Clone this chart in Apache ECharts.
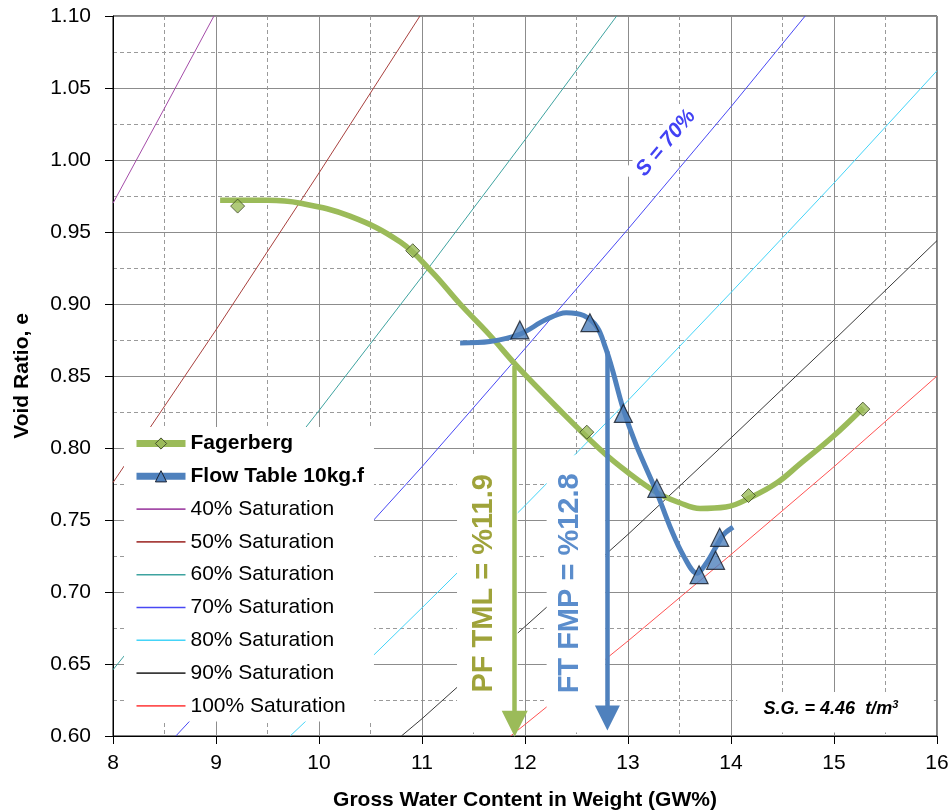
<!DOCTYPE html>
<html>
<head>
<meta charset="utf-8">
<script src="https://cdn.jsdelivr.net/npm/echarts@6/dist/echarts.min.js"></script>
<style>
  html, body { margin: 0; padding: 0; background: #fff; }
  #chart { width: 950px; height: 811px; }
</style>
</head>
<body>
<div id="chart"></div>
<script>
const FONT = '"Liberation Sans", Arial, sans-serif';

// Axis ticks
const xTicks = [8, 9, 10, 11, 12, 13, 14, 15, 16];
const yTicks = [0.60, 0.65, 0.70, 0.75, 0.80, 0.85, 0.90, 0.95, 1.00, 1.05, 1.10];

// Fagerberg test: measured points and fitted trend
const fagerbergPoints = [[9.21, 0.968], [10.91, 0.937], [12.60, 0.811], [14.17, 0.767], [15.28, 0.827]];
const fagerbergTrend = [
  [9.04, 0.972], [9.5, 0.972], [9.82, 0.970], [10.3, 0.961], [10.79, 0.943], [11.1, 0.922],
  [11.37, 0.900], [11.65, 0.879], [11.92, 0.857], [12.3, 0.829], [12.73, 0.799], [13.0, 0.783],
  [13.28, 0.769], [13.5, 0.762], [13.7, 0.758], [13.95, 0.759], [14.2, 0.766], [14.45, 0.776],
  [14.67, 0.789], [14.99, 0.808], [15.285, 0.828]
];

// Flow table (10 kg.f): measured points and drawn curve
const flowTablePoints = [[11.95, 0.882], [12.63, 0.887], [12.955, 0.824], [13.28, 0.772], [13.69, 0.712], [13.85, 0.722], [13.89, 0.738]];
const flowTableCurve = [
  [11.37, 0.873], [11.66, 0.874], [11.95, 0.879], [12.2, 0.889], [12.4, 0.894], [12.57, 0.892],
  [12.7, 0.884], [12.78, 0.870], [12.85, 0.854], [12.95, 0.828], [13.08, 0.802], [13.28, 0.769],
  [13.41, 0.745], [13.54, 0.725], [13.67, 0.713], [13.76, 0.720], [13.86, 0.732], [13.93, 0.740],
  [14.02, 0.745]
];

// Degree-of-saturation lines (S.G. = 4.46)
const saturationNames = ['40% Saturation', '50% Saturation', '60% Saturation', '70% Saturation', '80% Saturation', '90% Saturation', '100% Saturation'];
const sat40 = [[8, 0.970], [8.5, 1.036], [8.98, 1.10]];
const sat50 = [[8, 0.776], [9, 0.882], [10, 0.991], [10.98, 1.10]];
const sat60 = [[8, 0.646], [9, 0.735], [10, 0.826], [11, 0.919], [12, 1.014], [12.89, 1.10]];
const sat70 = [[8.61, 0.60], [9, 0.630], [10, 0.708], [11, 0.787], [12, 0.869], [13, 0.952], [14, 1.037], [14.72, 1.10]];
const sat80 = [[9.72, 0.60], [10, 0.619], [11, 0.689], [12, 0.760], [13, 0.833], [14, 0.908], [15, 0.984], [16, 1.062]];
const sat90 = [[10.8, 0.60], [11, 0.612], [12, 0.676], [13, 0.740], [14, 0.807], [15, 0.875], [16, 0.944]];
const sat100 = [[11.86, 0.60], [12, 0.608], [13, 0.666], [14, 0.726], [15, 0.787], [16, 0.850]];
const saturationLines = [sat40, sat50, sat60, sat70, sat80, sat90, sat100];

// Limit values marked with arrows (line start on the curve, arrowhead centre near the axis)
const tmlValue = 11.9;   // PF TML
const fmpValue = 12.8;   // FT FMP
const tmlArrow = [0.857, 0.6085];
const fmpArrow = [0.867, 0.6125];

// Styling
const satColors = ['#a44ca8', '#a8403e', '#3ea3a0', '#4848f4', '#44d4f8', '#3a3a3a', '#ff5252'];
const GREEN = '#9bbb59';
const BLUE = '#4f81bd';

const chart = echarts.init(document.getElementById('chart'));

const axisCommon = {
  axisLine: { show: true, onZero: false, lineStyle: { color: '#000', width: 1 } },
  axisTick: { show: true, inside: false, length: 8, lineStyle: { color: '#000', width: 1 } },
  splitLine: { show: true, lineStyle: { color: '#8c8c8c', width: 1 } },
  minorTick: { show: false, splitNumber: 2 },
  minorSplitLine: { show: true, lineStyle: { color: '#9a9a9a', width: 1, type: [4, 3] } },
  nameTextStyle: { fontFamily: FONT, fontSize: 21, fontWeight: 'bold', color: '#000' }
};

const series = [];
saturationNames.forEach((name, i) => {
  series.push({
    type: 'line', name, data: saturationLines[i], symbol: 'none', z: 1, silent: true,
    color: satColors[i],
    lineStyle: { color: satColors[i], width: 1 }
  });
});

series.push({
  type: 'line', name: 'Fagerberg', data: fagerbergTrend, smooth: 0.4,
  symbol: 'diamond', showSymbol: false, z: 3, silent: true,
  color: GREEN,
  lineStyle: { color: GREEN, width: 5.5 },
  itemStyle: { color: GREEN, borderColor: '#45512c', borderWidth: 1 },
  markLine: {
    silent: true, symbol: ['none', 'triangle'], symbolSize: 26, animation: false,
    label: { show: false },
    lineStyle: { color: GREEN, width: 4.5, type: 'solid' },
    data: [[{ coord: [tmlValue, tmlArrow[0]] }, { coord: [tmlValue, tmlArrow[1]] }]]
  }
});
series.push({
  type: 'line', name: 'Flow Table 10kg.f', data: flowTableCurve, smooth: 0.35,
  symbol: 'triangle', showSymbol: false, z: 4, silent: true,
  color: BLUE,
  lineStyle: { color: BLUE, width: 5 },
  itemStyle: { color: BLUE, borderColor: '#1c2433', borderWidth: 1 },
  markLine: {
    silent: true, symbol: ['none', 'triangle'], symbolSize: 25, animation: false,
    label: { show: false },
    lineStyle: { color: BLUE, width: 4.5, type: 'solid' },
    data: [[{ coord: [fmpValue, fmpArrow[0]] }, { coord: [fmpValue, fmpArrow[1]] }]]
  }
});
series.push({
  type: 'scatter', name: 'Fagerberg', data: fagerbergPoints, symbol: 'diamond', symbolSize: 14, z: 6,
  itemStyle: { color: GREEN, borderColor: '#3d4726', borderWidth: 1 }
});
series.push({
  type: 'scatter', name: 'Flow Table 10kg.f', data: flowTablePoints, symbol: 'triangle', symbolSize: 18, z: 7,
  itemStyle: { color: BLUE, borderColor: '#141a26', borderWidth: 1.2 }
});

const option = {
  animation: false,
  backgroundColor: '#fff',
  textStyle: { fontFamily: FONT },
  grid: {
    left: 113, right: 13, top: 16, bottom: 75,
    show: true, borderColor: '#000', borderWidth: 1, backgroundColor: 'transparent',
    containLabel: false, outerBoundsMode: 'none'
  },
  xAxis: Object.assign({
    type: 'value', min: xTicks[0], max: xTicks[xTicks.length - 1], interval: 1,
    name: 'Gross Water Content in Weight (GW%)', nameLocation: 'middle', nameGap: 54,
    axisLabel: { fontFamily: FONT, fontSize: 21, color: '#000', margin: 17 }
  }, axisCommon),
  yAxis: Object.assign({
    type: 'value', min: yTicks[0], max: yTicks[yTicks.length - 1], interval: 0.05,
    name: 'Void Ratio, e', nameLocation: 'middle', nameGap: 80,
    axisLabel: { fontFamily: FONT, fontSize: 21, color: '#000', margin: 22, formatter: v => v.toFixed(2) }
  }, axisCommon),
  legend: {
    orient: 'vertical', left: 124, top: 427,
    backgroundColor: '#fff', padding: [6, 10, 5, 9],
    itemWidth: 49, itemHeight: 14, itemGap: 11.8,
    selectedMode: false,
    textStyle: { fontFamily: FONT, fontSize: 21, color: '#000', lineHeight: 21 },
    data: [
      { name: 'Fagerberg', textStyle: { fontWeight: 'bold' }, lineStyle: { width: 7 }, itemStyle: { borderWidth: 1 } },
      { name: 'Flow Table 10kg.f', textStyle: { fontWeight: 'bold' }, lineStyle: { width: 7 }, itemStyle: { borderWidth: 1 } }
    ].concat(saturationNames.map(n => ({ name: n, icon: 'path://M0,0H40V1.3H0Z' })))
  },
  series
};

chart.setOption(option);

// Annotations placed in data coordinates
const px = (x, y) => chart.convertToPixel({ gridIndex: 0 }, [x, y]);
function whiteBox(x0, y0, x1, y1) {
  const a = px(x0, y1), b = px(x1, y0);
  return { type: 'rect', z: 2, silent: true, shape: { x: a[0], y: a[1], width: b[0] - a[0], height: b[1] - a[1] }, style: { fill: '#fff' } };
}
function vText(text, x, y, color) {
  const p = px(x, y);
  return {
    type: 'text', z: 2.5, silent: true, x: p[0], y: p[1], rotation: Math.PI / 2,
    style: { text, fill: color, fontFamily: FONT, fontSize: 29, fontWeight: 'bold', align: 'center', verticalAlign: 'middle' }
  };
}
const s70 = px(13.37, 1.0118);
const sg = px(14.97, 0.6188);

chart.setOption({
  graphic: [
    whiteBox(11.34, 0.6025, 11.93, 0.795),
    whiteBox(12.21, 0.6025, 12.78, 0.795),
    vText('PF TML = %11.9', 11.60, 0.706, '#9fa33a'),
    vText('FT FMP = %12.8', 12.44, 0.706, '#5b8dcc'),
    {
      type: 'text', z: 2.5, silent: true, x: s70[0], y: s70[1], rotation: 50 * Math.PI / 180,
      style: {
        text: 'S = 70%', fill: '#4242f4', fontFamily: FONT, fontSize: 21, fontWeight: 'bold', fontStyle: 'italic',
        align: 'center', verticalAlign: 'middle', backgroundColor: '#fff', padding: [4, 10]
      }
    },
    whiteBox(14.06, 0.6025, 15.97, 0.6306),
    {
      type: 'text', z: 2.5, silent: true, x: sg[0], y: sg[1],
      style: {
        text: '{a|S.G. = 4.46  t/m}{s|3}', align: 'center', verticalAlign: 'middle',
        rich: {
          a: { fontFamily: FONT, fontSize: 18, fontWeight: 'bold', fontStyle: 'italic', fill: '#000', lineHeight: 19 },
          s: { fontFamily: FONT, fontSize: 11, fontWeight: 'bold', fontStyle: 'italic', fill: '#000', verticalAlign: 'top', lineHeight: 19 }
        }
      }
    }
  ]
});
</script>
</body>
</html>
